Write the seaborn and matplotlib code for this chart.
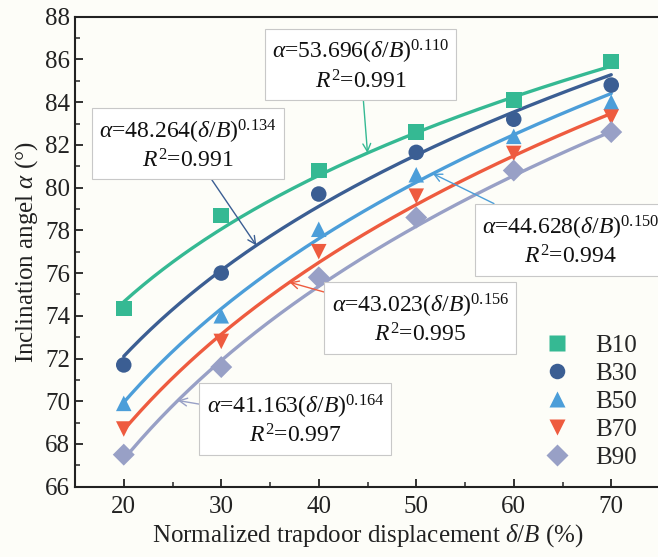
import numpy as np
import pandas as pd
import matplotlib
matplotlib.use("Agg")
import matplotlib.pyplot as plt
import seaborn as sns
from matplotlib.ticker import MultipleLocator

sns.set_theme(style="ticks")
plt.rcParams['font.family'] = ['Liberation Serif', 'DejaVu Serif']
plt.rcParams['mathtext.fontset'] = 'custom'
plt.rcParams['mathtext.rm'] = 'Liberation Serif'
plt.rcParams['mathtext.it'] = 'Liberation Serif:italic'
plt.rcParams['mathtext.bf'] = 'Liberation Serif:bold'

# ---- data ----
x_disp = [20, 30, 40, 50, 60, 70]
series = ["B10", "B30", "B50", "B70", "B90"]
b10 = [74.35, 78.7, 80.8, 82.6, 84.1, 85.9]
b30 = [71.7, 76.0, 79.7, 81.65, 83.2, 84.8]
b50 = [69.9, 74.0, 78.05, 80.6, 82.4, 84.0]
b70 = [68.7, 72.8, 77.0, 79.6, 81.6, 83.3]
b90 = [67.5, 71.6, 75.8, 78.6, 80.8, 82.6]
fit_a = [53.696, 48.264, 44.628, 43.023, 41.163]
fit_b = [0.110, 0.134, 0.150, 0.156, 0.164]
fit_r2 = ["0.991", "0.991", "0.994", "0.995", "0.997"]
colors = ["#35b993", "#3b5e93", "#4c9ed9", "#ee5b3f", "#98a0c6"]
markers = ["s", "o", "^", "v", "D"]

values = [b10, b30, b50, b70, b90]
df = pd.DataFrame({
    "x": np.tile(x_disp, len(series)),
    "y": np.concatenate(values),
    "s": np.repeat(series, len(x_disp)),
})

xf = np.linspace(20, 70, 200)
fit_df = pd.DataFrame({
    "x": np.tile(xf, len(series)),
    "y": np.concatenate([a * xf ** b for a, b in zip(fit_a, fit_b)]),
    "s": np.repeat(series, len(xf)),
})

bg = "#fdfdf8"
fig = plt.figure(figsize=(6.58, 5.57), dpi=100, facecolor=bg)
ax = fig.add_axes([75 / 658, 70.3 / 557, 585 / 658, 470 / 557])
ax.set_facecolor(bg)

pal = dict(zip(series, colors))
sns.lineplot(data=fit_df, x="x", y="y", hue="s", palette=pal, lw=2.4,
             legend=False, ax=ax, zorder=2)
sns.scatterplot(data=df, x="x", y="y", hue="s", style="s", palette=pal,
                markers=dict(zip(series, markers)), s=125, edgecolor="none",
                ax=ax, zorder=3)

ax.set_xlim(15, 75)
ax.set_ylim(66, 88)
ax.xaxis.set_major_locator(MultipleLocator(10))
ax.xaxis.set_minor_locator(MultipleLocator(5))
ax.yaxis.set_major_locator(MultipleLocator(2))
ax.yaxis.set_minor_locator(MultipleLocator(1))
ax.tick_params(which="major", direction="in", length=6, width=1.3,
               labelsize=18, colors="#222222", top=False, right=False)
ax.tick_params(which="minor", direction="in", length=3.5, width=1.1,
               top=False, right=False)
ax.tick_params(axis="x", pad=7)
for sp in ax.spines.values():
    sp.set_linewidth(1.5)
    sp.set_color("#222222")

ax.set_xlabel(r"Normalized trapdoor displacement $\mathit{\delta/B}$ (%)",
              fontsize=18, labelpad=3, color="#222222")
ax.set_ylabel(r"Inclination angel $\mathit{\alpha}$ (°)", fontsize=18,
              labelpad=4, color="#222222")

# annotations: (text center, arrow tip x)
text_pos = [(44.3, 85.7), (26.6, 82.0), (65.8, 77.5), (50.4, 73.85), (37.6, 69.1)]
tip_x = [45.0, 33.6, 51.7, 37.0, 25.55]
for i in range(len(series)):
    a, b = fit_a[i], fit_b[i]
    txt = (r"$\mathit{\alpha}$=%.3f($\mathit{\delta/B}$)$^{%.3f}$" % (a, b)
           + "\n" + r"$\mathit{R}^{2}$=" + fit_r2[i])
    tx = tip_x[i]
    ty = a * tx ** b
    ax.annotate(txt, xy=(tx, ty), xytext=text_pos[i], fontsize=17,
                ha="center", va="center", multialignment="center",
                color="#111111", zorder=5,
                bbox=dict(boxstyle="square,pad=0.3", fc="white",
                          ec="#c8c8c8", lw=0.8),
                arrowprops=dict(arrowstyle="->", color=colors[i], lw=1.0,
                                shrinkA=0, shrinkB=0, mutation_scale=14))

leg = ax.legend(loc="lower right", bbox_to_anchor=(0.99, 0.0), frameon=False,
                fontsize=18, handletextpad=0.5, labelspacing=0.22,
                borderaxespad=0.3)
for h in leg.legend_handles:
    if hasattr(h, "set_sizes"):
        h.set_sizes([110])

fig.savefig("out.png", dpi=100, facecolor=bg)
